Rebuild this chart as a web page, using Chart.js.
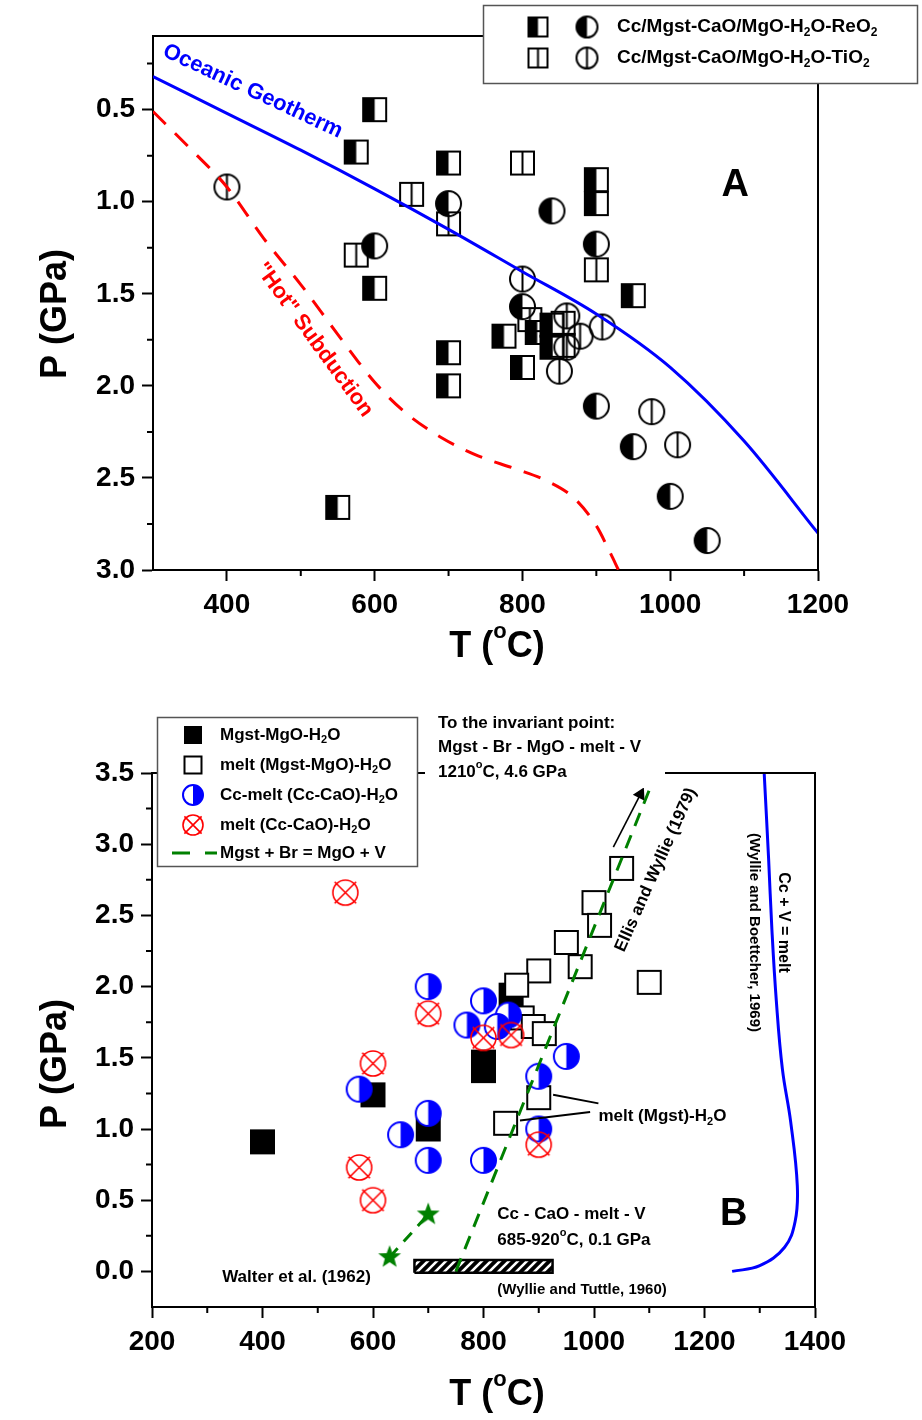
<!DOCTYPE html>
<html lang="en">
<head>
<meta charset="utf-8">
<title>Cc/Mgst P-T diagrams</title>
<script src="https://cdn.jsdelivr.net/npm/chart.js@4.4.1/dist/chart.umd.min.js"></script>
<style>
  html, body { margin: 0; padding: 0; background: #fff; }
  #page { position: relative; width: 922px; height: 1420px; }
  #page canvas { position: absolute; left: 0; }
</style>
</head>
<body>
<div id="page">
  <canvas id="chartA" width="922" height="680" style="top:0px"></canvas>
  <canvas id="chartB" width="922" height="730" style="top:690px"></canvas>
</div>
<script>
// Two P-T panels: (A) runs with ReO2 / TiO2, (B) melting relations in Cc/Mgst systems.
const FONT = '"Liberation Sans", Arial, Helvetica, sans-serif';
Chart.defaults.font.family = FONT;
Chart.defaults.color = '#000';

// ---------- panel A ----------
const aTTicks = [400, 600, 800, 1000, 1200];
const aTMinor = [500, 700, 900, 1100];
const aPTicks = [0.5, 1.0, 1.5, 2.0, 2.5, 3.0];
const aPMinor = [0.25, 0.75, 1.25, 1.75, 2.25, 2.75];

const reo2SquareT = [600, 575, 700, 900, 900, 600, 950, 775, 820, 840, 840, 700, 800, 700, 550];
const reo2SquareP = [0.50, 0.73, 0.79, 0.88, 1.01, 1.47, 1.51, 1.73, 1.71, 1.67, 1.79, 1.82, 1.90, 2.00, 2.66];
const reo2CircleT = [700, 840, 600, 900, 800, 900, 950, 1000, 1050];
const reo2CircleP = [1.01, 1.05, 1.24, 1.23, 1.57, 2.11, 2.33, 2.60, 2.84];
const tio2SquareT = [650, 800, 700, 575, 900, 810, 855, 855];
const tio2SquareP = [0.96, 0.79, 1.12, 1.29, 1.37, 1.64, 1.66, 1.78];
const tio2CircleT = [400, 800, 860, 908, 878, 860, 850, 975, 1010];
const tio2CircleP = [0.92, 1.42, 1.62, 1.68, 1.73, 1.79, 1.92, 2.14, 2.32];

const geothermT = [300, 400, 500, 600, 700, 800, 900, 1000, 1100, 1200];
const geothermP = [0.32, 0.52, 0.72, 0.93, 1.15, 1.38, 1.61, 1.90, 2.30, 2.80];
const hotT = [300, 350, 400, 450, 500, 550, 600, 640, 690, 740, 790, 835, 870, 900, 918, 930];
const hotP = [0.51, 0.71, 0.92, 1.20, 1.45, 1.72, 1.98, 2.14, 2.28, 2.38, 2.45, 2.52, 2.61, 2.76, 2.90, 3.00];

// ---------- panel B ----------
const bTTicks = [200, 400, 600, 800, 1000, 1200, 1400];
const bTMinor = [300, 500, 700, 900, 1100, 1300];
const bPTicks = [0.0, 0.5, 1.0, 1.5, 2.0, 2.5, 3.0, 3.5];
const bPMinor = [0.25, 0.75, 1.25, 1.75, 2.25, 2.75, 3.25];

const mgstT = [400, 600, 700, 800, 800, 850];
const mgstP = [0.91, 1.24, 1.00, 1.41, 1.47, 1.94];
const meltMgT = [1050, 1000, 1010, 950, 975, 900, 860, 1100, 870, 890, 910, 900, 840];
const meltMgP = [2.83, 2.59, 2.43, 2.31, 2.14, 2.11, 2.01, 2.03, 1.78, 1.72, 1.67, 1.22, 1.04];
const ccMeltT = [700, 800, 770, 845, 825, 950, 900, 575, 700, 650, 700, 800, 900];
const ccMeltP = [2.00, 1.90, 1.73, 1.80, 1.72, 1.51, 1.37, 1.28, 1.11, 0.96, 0.78, 0.78, 1.00];
const meltCcT = [700, 600, 800, 850, 900, 575, 600, 550];
const meltCcP = [1.81, 1.46, 1.64, 1.66, 0.89, 0.73, 0.50, 2.66];

const walterT = [630, 700];
const walterP = [0.10, 0.40];
const ellisT = [750, 1100];
const ellisP = [0.00, 3.38];
const arrowT = [1035, 1084];
const arrowP = [2.98, 3.35];
const ccMeltingT = [1308, 1316, 1322, 1330, 1341, 1356, 1368, 1364, 1345, 1300, 1250];
const ccMeltingP = [3.50, 2.90, 2.40, 1.90, 1.42, 1.05, 0.60, 0.35, 0.17, 0.04, 0.00];
const tuttleT = [675, 925, 925, 675, 675];
const tuttleP = [-0.01, -0.01, 0.08, 0.08, -0.01];

const pts = (t, p) => t.map((v, i) => ({ x: v, y: p[i] }));

// ---------- marker images ----------
function mk(size, draw) {
  const c = document.createElement('canvas');
  c.width = c.height = size + 4;
  const g = c.getContext('2d');
  g.translate((size + 4) / 2, (size + 4) / 2);
  draw(g, size / 2);
  return c;
}
const sqHalf = s => mk(s, (g, r) => {
  g.fillStyle = '#000'; g.fillRect(-r, -r, r, 2 * r);
  g.lineWidth = 2; g.strokeStyle = '#000'; g.strokeRect(-r, -r, 2 * r, 2 * r);
});
const sqSplit = s => mk(s, (g, r) => {
  g.lineWidth = 2; g.strokeStyle = '#000'; g.strokeRect(-r, -r, 2 * r, 2 * r);
  g.beginPath(); g.moveTo(0, -r); g.lineTo(0, r); g.stroke();
});
const ciHalf = s => mk(s, (g, r) => {
  g.fillStyle = '#000';
  g.beginPath(); g.arc(0, 0, r, Math.PI / 2, 3 * Math.PI / 2); g.closePath(); g.fill();
  g.lineWidth = 2; g.strokeStyle = '#000';
  g.beginPath(); g.arc(0, 0, r, 0, 2 * Math.PI); g.stroke();
});
const ciSplit = s => mk(s, (g, r) => {
  g.lineWidth = 2; g.strokeStyle = '#000';
  g.beginPath(); g.arc(0, 0, r, 0, 2 * Math.PI); g.moveTo(0, -r); g.lineTo(0, r); g.stroke();
});
const sqOpen = s => mk(s, (g, r) => {
  g.fillStyle = '#fff'; g.fillRect(-r, -r, 2 * r, 2 * r);
  g.lineWidth = 2; g.strokeStyle = '#000'; g.strokeRect(-r, -r, 2 * r, 2 * r);
});
const sqFull = s => mk(s, (g, r) => { g.fillStyle = '#000'; g.fillRect(-r, -r, 2 * r, 2 * r); });
const ciBlue = s => mk(s, (g, r) => {
  g.fillStyle = '#fff'; g.beginPath(); g.arc(0, 0, r, 0, 2 * Math.PI); g.fill();
  g.fillStyle = '#0000ff'; g.beginPath(); g.arc(0, 0, r, -Math.PI / 2, Math.PI / 2); g.closePath(); g.fill();
  g.lineWidth = 2; g.strokeStyle = '#0000ff'; g.beginPath(); g.arc(0, 0, r, 0, 2 * Math.PI); g.stroke();
});
const ciCross = s => mk(s, (g, r) => {
  g.lineWidth = 1.6; g.strokeStyle = '#ff0000';
  g.beginPath(); g.arc(0, 0, r, 0, 2 * Math.PI); g.stroke();
  const d = r * 0.86;
  g.beginPath(); g.moveTo(-d, -d); g.lineTo(d, d); g.moveTo(d, -d); g.lineTo(-d, d); g.stroke();
});
const star = s => mk(s, (g, r) => {
  g.fillStyle = '#008000'; g.beginPath();
  for (let i = 0; i < 10; i++) {
    const a = -Math.PI / 2 + i * Math.PI / 5, rr = i % 2 ? r * 0.42 : r;
    g.lineTo(rr * Math.cos(a), rr * Math.sin(a));
  }
  g.closePath(); g.fill();
});

function hatchPattern(ctx) {
  const c = document.createElement('canvas');
  c.width = 9; c.height = 9;
  const g = c.getContext('2d');
  g.fillStyle = '#000'; g.fillRect(0, 0, 9, 9);
  g.strokeStyle = '#fff'; g.lineWidth = 2.6; g.beginPath();
  g.moveTo(0, 9); g.lineTo(9, 0); g.moveTo(-4.5, 4.5); g.lineTo(4.5, -4.5); g.moveTo(4.5, 13.5); g.lineTo(13.5, 4.5);
  g.stroke();
  return ctx.createPattern(c, 'repeat');
}

// ---------- text helpers ----------
// "_x" -> subscript x, "^x" -> superscript x
function rich(ctx, str, x, y, size, opt = {}) {
  const parts = [];
  str.split(/([_^].)/).forEach(s => {
    if (!s) return;
    if (s.length === 2 && s[0] === '_') parts.push({ t: s[1], k: 1 });
    else if (s.length === 2 && s[0] === '^') parts.push({ t: s[1], k: -1 });
    else parts.push({ t: s, k: 0 });
  });
  const f = k => `bold ${k ? Math.round(size * 0.62) : size}px ${FONT}`;
  ctx.save();
  ctx.translate(x, y);
  if (opt.angle) ctx.rotate(opt.angle * Math.PI / 180);
  ctx.fillStyle = opt.color || '#000';
  ctx.textBaseline = 'middle';
  ctx.textAlign = 'left';
  let w = 0;
  parts.forEach(p => { ctx.font = f(p.k); p.w = ctx.measureText(p.t).width; w += p.w; });
  let cx = opt.align === 'left' ? 0 : -w / 2;
  parts.forEach(p => {
    ctx.font = f(p.k);
    ctx.fillText(p.t, cx, p.k > 0 ? size * 0.32 : p.k < 0 ? -size * 0.42 : 0);
    cx += p.w;
  });
  ctx.restore();
}

function frameAndMinor(chart, xMinor, yMinor) {
  const { ctx, chartArea: ca, scales: { x, y } } = chart;
  ctx.strokeStyle = '#000';
  ctx.lineWidth = 2;
  ctx.beginPath();
  ctx.moveTo(ca.left, ca.top); ctx.lineTo(ca.right, ca.top); ctx.lineTo(ca.right, ca.bottom);
  xMinor.forEach(v => { const p = x.getPixelForValue(v); ctx.moveTo(p, ca.bottom); ctx.lineTo(p, ca.bottom + 6); });
  yMinor.forEach(v => { const p = y.getPixelForValue(v); ctx.moveTo(ca.left, p); ctx.lineTo(ca.left - 6, p); });
  ctx.stroke();
}

function axis(min, max, ticks, fmt, extra) {
  return Object.assign({
    type: 'linear', min, max,
    afterBuildTicks: s => { s.ticks = ticks.map(v => ({ value: v })); },
    ticks: { autoSkip: false, maxRotation: 0, padding: 7, color: '#000',
             font: { size: 28, weight: 'bold' }, callback: fmt },
    grid: { drawOnChartArea: false, drawTicks: true, tickLength: 11, tickWidth: 2, tickColor: '#000' },
    border: { display: true, color: '#000', width: 2 }
  }, extra);
}

const base = {
  responsive: false, animation: false, devicePixelRatio: 1, events: [],
  plugins: { legend: { display: false }, tooltip: { enabled: false } }
};

// ---------- chart A ----------
const annotA = {
  id: 'annotA',
  afterDraw(chart) {
    const { ctx, scales: { x, y } } = chart;
    ctx.save();
    frameAndMinor(chart, aTMinor, aPMinor);
    rich(ctx, 'Oceanic Geotherm', x.getPixelForValue(435), y.getPixelForValue(0.40), 22, { color: '#0000ff', angle: 25 });
    rich(ctx, '"Hot" Subduction', x.getPixelForValue(518), y.getPixelForValue(1.75), 22, { color: '#ff0000', angle: 54 });
    rich(ctx, 'A', x.getPixelForValue(1088), y.getPixelForValue(0.91), 38);
    rich(ctx, 'P (GPa)', 56, 314, 36, { angle: -90 });
    rich(ctx, 'T (^oC)', 497, 647, 36);
    // legend
    ctx.fillStyle = '#fff'; ctx.fillRect(483, 5, 435, 79);
    ctx.strokeStyle = '#555'; ctx.lineWidth = 1.5; ctx.strokeRect(483.5, 5.5, 434, 78);
    [[sqHalf(19), ciHalf(21), 'Cc/Mgst-CaO/MgO-H_2O-ReO_2', 27],
     [sqSplit(19), ciSplit(21), 'Cc/Mgst-CaO/MgO-H_2O-TiO_2', 58]].forEach(([a, b, t, yy]) => {
      ctx.drawImage(a, 538 - a.width / 2, yy - a.height / 2);
      ctx.drawImage(b, 587 - b.width / 2, yy - b.height / 2);
      rich(ctx, t, 617, yy, 19, { align: 'left' });
    });
    ctx.restore();
  }
};

new Chart(document.getElementById('chartA'), {
  type: 'scatter',
  data: {
    datasets: [
      { data: pts(geothermT, geothermP), showLine: true, borderColor: '#0000ff', borderWidth: 3,
        pointRadius: 0, cubicInterpolationMode: 'monotone' },
      { data: pts(hotT, hotP), showLine: true, borderColor: '#ff0000', borderWidth: 3, borderDash: [18, 13],
        pointRadius: 0, cubicInterpolationMode: 'monotone' },
      { data: pts(reo2CircleT, reo2CircleP), pointStyle: ciHalf(25), pointRadius: 12 },
      { data: pts(tio2CircleT, tio2CircleP), pointStyle: ciSplit(25), pointRadius: 12 },
      { data: pts(reo2SquareT, reo2SquareP), pointStyle: sqHalf(23), pointRadius: 12 },
      { data: pts(tio2SquareT, tio2SquareP), pointStyle: sqSplit(23), pointRadius: 12 }
    ]
  },
  options: Object.assign({}, base, {
    layout: { padding: { top: 36, right: 104, left: 0, bottom: 0 } },
    scales: {
      x: axis(300, 1200, aTTicks, v => String(v), { afterFit: s => { s.height = 110; } }),
      y: axis(0.1, 3.0, aPTicks, v => v.toFixed(1), { reverse: true, afterFit: s => { s.width = 153; } })
    }
  }),
  plugins: [annotA]
});

// ---------- chart B ----------
const annotB = {
  id: 'annotB',
  afterDraw(chart) {
    const { ctx, scales: { x, y } } = chart;
    const X = v => x.getPixelForValue(v), Y = v => y.getPixelForValue(v);
    ctx.save();
    frameAndMinor(chart, bTMinor, bPMinor);
    // invariant point note (white box over the top frame)
    ctx.fillStyle = '#fff'; ctx.fillRect(425, 12, 240, 86);
    rich(ctx, 'To the invariant point:', 438, 33, 17, { align: 'left' });
    rich(ctx, 'Mgst - Br - MgO - melt - V', 438, 57, 17, { align: 'left' });
    rich(ctx, '1210^oC, 4.6 GPa', 438, 82, 17, { align: 'left' });
    // leaders to the melt (Mgst)-H2O points
    ctx.strokeStyle = '#000'; ctx.lineWidth = 2; ctx.beginPath();
    ctx.moveTo(X(926), Y(1.24)); ctx.lineTo(X(1008), Y(1.18));
    ctx.moveTo(X(866), Y(1.06)); ctx.lineTo(X(993), Y(1.12));
    ctx.stroke();
    rich(ctx, 'melt (Mgst)-H_2O', X(1008), Y(1.09), 17, { align: 'left' });
    rich(ctx, 'Cc - CaO - melt - V', X(825), Y(0.40), 17, { align: 'left' });
    rich(ctx, '685-920^oC, 0.1 GPa', X(825), Y(0.22), 17, { align: 'left' });
    rich(ctx, 'Walter et al. (1962)', X(327), Y(-0.04), 17, { align: 'left' });
    rich(ctx, '(Wyllie and Tuttle, 1960)', X(825), Y(-0.13), 15, { align: 'left' });
    rich(ctx, 'Ellis and Wyllie (1979)', X(1112), Y(2.82), 17, { angle: -66 });
    rich(ctx, '(Wyllie and Boettcher, 1969)', X(1290), Y(2.38), 15, { angle: 90 });
    rich(ctx, 'Cc + V = melt', X(1343), Y(2.45), 16, { angle: 90 });
    rich(ctx, 'B', X(1253), Y(0.40), 38);
    rich(ctx, 'P (GPa)', 56, 374, 36, { angle: -90 });
    rich(ctx, 'T (^oC)', 497, 705, 36);
    // legend
    ctx.fillStyle = '#fff'; ctx.fillRect(157, 27, 260, 150);
    ctx.strokeStyle = '#555'; ctx.lineWidth = 1.5; ctx.strokeRect(157.5, 27.5, 260, 149);
    [[sqFull(18), 'Mgst-MgO-H_2O', 45],
     [sqOpen(17), 'melt (Mgst-MgO)-H_2O', 75],
     [ciBlue(20), 'Cc-melt (Cc-CaO)-H_2O', 105],
     [ciCross(20), 'melt (Cc-CaO)-H_2O', 135]].forEach(([m, t, yy]) => {
      ctx.drawImage(m, 193 - m.width / 2, yy - m.height / 2);
      rich(ctx, t, 220, yy, 17, { align: 'left' });
    });
    ctx.strokeStyle = '#008000'; ctx.lineWidth = 3; ctx.setLineDash([18, 15]);
    ctx.beginPath(); ctx.moveTo(172, 163); ctx.lineTo(217, 163); ctx.stroke();
    ctx.setLineDash([]);
    rich(ctx, 'Mgst + Br = MgO + V', 220, 163, 17, { align: 'left' });
    ctx.restore();
  }
};

const ctxB = document.getElementById('chartB').getContext('2d');
new Chart(ctxB, {
  type: 'scatter',
  data: {
    datasets: [
      { data: pts(ellisT, ellisP), showLine: true, borderColor: '#008000', borderWidth: 3, borderDash: [14, 10],
        pointRadius: 0 },
      { data: pts(walterT, walterP), showLine: true, borderColor: '#008000', borderWidth: 3, borderDash: [12, 9],
        pointStyle: star(24), pointRadius: 12 },
      { data: pts(arrowT, arrowP), showLine: true, borderColor: '#000', borderWidth: 1.6,
        pointStyle: 'triangle', pointRadius: [0, 6], pointRotation: 27,
        pointBackgroundColor: '#000', pointBorderColor: '#000' },
      { data: pts(ccMeltingT, ccMeltingP), showLine: true, borderColor: '#0000ff', borderWidth: 3,
        pointRadius: 0, tension: 0.4 },
      { data: pts(meltCcT, meltCcP), pointStyle: ciCross(25), pointRadius: 12 },
      { data: pts(ccMeltT, ccMeltP), pointStyle: ciBlue(25), pointRadius: 12 },
      { data: pts(meltMgT, meltMgP), pointStyle: sqOpen(23), pointRadius: 12 },
      { data: pts(mgstT, mgstP), pointStyle: sqFull(25), pointRadius: 12 },
      { data: pts(tuttleT, tuttleP), showLine: true, borderColor: '#000', borderWidth: 2.5,
        backgroundColor: hatchPattern(ctxB), fill: 'shape', pointRadius: 0, tension: 0 }
    ]
  },
  options: Object.assign({}, base, {
    layout: { padding: { top: 83, right: 107, left: 0, bottom: 0 } },
    scales: {
      x: axis(200, 1400, bTTicks, v => String(v), { afterFit: s => { s.height = 113; } }),
      y: axis(-0.25, 3.5, bPTicks, v => v.toFixed(1), { afterFit: s => { s.width = 152; } })
    }
  }),
  plugins: [annotB]
});
</script>
</body>
</html>
